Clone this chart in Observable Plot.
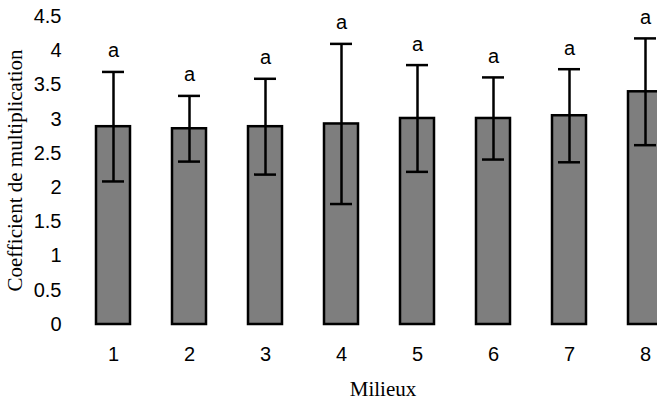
<!DOCTYPE html>
<html>
<head>
<meta charset="utf-8">
<script src="https://cdn.jsdelivr.net/npm/d3@7"></script>
<script src="https://cdn.jsdelivr.net/npm/@observablehq/plot@0.6"></script>
<style>
  html, body { margin: 0; padding: 0; background: #fff; }
  #chart svg { display: block; overflow: hidden; }
</style>
</head>
<body>
<div id="chart"></div>
<script>
const milieux = ["1", "2", "3", "4", "5", "6", "7", "8"];
const means   = [2.89, 2.86, 2.89, 2.93, 3.01, 3.01, 3.05, 3.40];
const errors  = [0.80, 0.48, 0.70, 1.17, 0.78, 0.60, 0.68, 0.78];
const letters = ["a", "a", "a", "a", "a", "a", "a", "a"];
const yTicks  = [0, 0.5, 1, 1.5, 2, 2.5, 3, 3.5, 4, 4.5];
const xLabel  = "Milieux";
const yLabel  = "Coefficient de multiplication";

const data = milieux.map((m, i) => ({
  m, mean: means[i], lo: means[i] - errors[i], hi: means[i] + errors[i], letter: letters[i]
}));

const sans = "Liberation Sans, Arial, sans-serif";
const serif = "Liberation Serif, Times New Roman, serif";

const chart = Plot.plot({
  width: 657,
  height: 403,
  marginTop: 16,
  marginBottom: 79,
  marginLeft: 64,
  marginRight: 0,
  style: { fontFamily: sans, background: "#fff" },
  x: { domain: milieux, range: [53, 705], padding: 0.55, label: null },
  y: { domain: [0, 4.5], label: null },
  marks: [
    Plot.barY(data, { x: "m", y: "mean", fill: "#7e7e7e", stroke: "#000", strokeWidth: 2.5 }),
    Plot.ruleX(data, { x: "m", y1: "lo", y2: "hi", stroke: "#000", strokeWidth: 2.5 }),
    Plot.tickY(data, { x: "m", y: "hi", stroke: "#000", strokeWidth: 2.5, insetLeft: 6, insetRight: 6 }),
    Plot.tickY(data, { x: "m", y: "lo", stroke: "#000", strokeWidth: 2.5, insetLeft: 6, insetRight: 6 }),
    Plot.text(data, { x: "m", y: "hi", text: "letter", dy: -21, fontSize: 20, fill: "#000", fontFamily: sans }),
    Plot.axisY({ ticks: yTicks, tickSize: 0, tickPadding: 3, fontSize: 20, label: null, tickFormat: d => String(d) }),
    Plot.axisX({ tickSize: 0, tickPadding: 22, fontSize: 20, label: null }),
    Plot.text([yLabel], { text: d => d, frameAnchor: "left", dx: -49, rotate: -90, fontSize: 21, fontFamily: serif, fill: "#000", textAnchor: "middle", lineAnchor: "middle" }),
    Plot.text([xLabel], { text: d => d, frameAnchor: "bottom", dx: 22, dy: 65, fontSize: 21, fontFamily: serif, fill: "#000", textAnchor: "middle", lineAnchor: "middle" })
  ]
});
document.getElementById("chart").appendChild(chart);
</script>
</body>
</html>
